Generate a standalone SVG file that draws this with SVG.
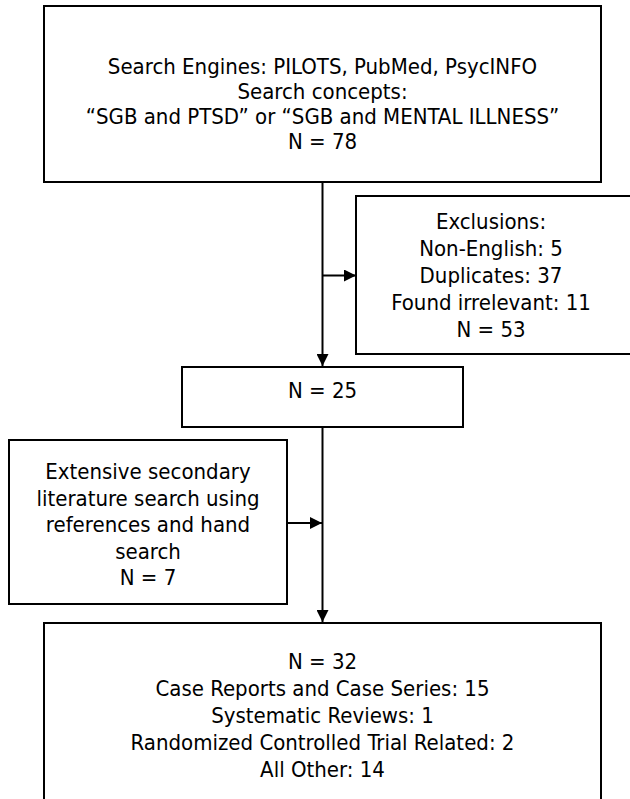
<svg xmlns="http://www.w3.org/2000/svg" width="630" height="799" viewBox="0 0 630 799">
<style>
  .box { fill: #ffffff; stroke: #000000; stroke-width: 2; }
  .lbl { font-family: "DejaVu Sans Condensed", "DejaVu Sans", sans-serif; font-stretch: condensed; font-size: 22px; fill: #000000; text-anchor: middle; }
  .conn { stroke: #000000; stroke-width: 2; fill: none; }
</style>
<defs>
  <marker id="arr" markerWidth="12" markerHeight="12" refX="12" refY="6" orient="auto" markerUnits="userSpaceOnUse">
    <path d="M0,0 L12,6 L0,12 Z" fill="#000000"/>
  </marker>
</defs>
<rect width="630" height="799" fill="#ffffff"/>
<g id="connectors">
  <line class="conn" x1="322.5" y1="182" x2="322.5" y2="366" marker-end="url(#arr)"/>
  <line class="conn" x1="322.5" y1="275.5" x2="356" y2="275.5" marker-end="url(#arr)"/>
  <line class="conn" x1="322.5" y1="427" x2="322.5" y2="622" marker-end="url(#arr)"/>
  <line class="conn" x1="287" y1="523" x2="322" y2="523" marker-end="url(#arr)"/>
</g>
<g id="search">
  <rect class="box" x="44" y="6" width="557" height="176"/>
  <text class="lbl" x="322.5" y="74">Search Engines: PILOTS, PubMed, PsycINFO</text>
  <text class="lbl" x="322.5" y="99">Search concepts:</text>
  <text class="lbl" x="322.5" y="124">“SGB and PTSD” or “SGB and MENTAL ILLNESS”</text>
  <text class="lbl" x="322.5" y="149">N = 78</text>
</g>
<g id="exclusions">
  <rect class="box" x="356" y="196" width="290" height="158"/>
  <text class="lbl" x="491" y="229">Exclusions:</text>
  <text class="lbl" x="491" y="256">Non-English: 5</text>
  <text class="lbl" x="491" y="283">Duplicates: 37</text>
  <text class="lbl" x="491" y="310">Found irrelevant: 11</text>
  <text class="lbl" x="491" y="337">N = 53</text>
</g>
<g id="n25">
  <rect class="box" x="182" y="367" width="281" height="60"/>
  <text class="lbl" x="322.5" y="398">N = 25</text>
</g>
<g id="secondary">
  <rect class="box" x="9" y="440" width="278" height="164"/>
  <text class="lbl" x="148" y="479">Extensive secondary</text>
  <text class="lbl" x="148" y="506">literature search using</text>
  <text class="lbl" x="148" y="532">references and hand</text>
  <text class="lbl" x="148" y="559">search</text>
  <text class="lbl" x="148" y="585">N = 7</text>
</g>
<g id="result">
  <rect class="box" x="44" y="623" width="557" height="200"/>
  <text class="lbl" x="322.5" y="669">N = 32</text>
  <text class="lbl" x="322.5" y="696">Case Reports and Case Series: 15</text>
  <text class="lbl" x="322.5" y="723">Systematic Reviews: 1</text>
  <text class="lbl" x="322.5" y="750">Randomized Controlled Trial Related: 2</text>
  <text class="lbl" x="322.5" y="777">All Other: 14</text>
</g>
</svg>
